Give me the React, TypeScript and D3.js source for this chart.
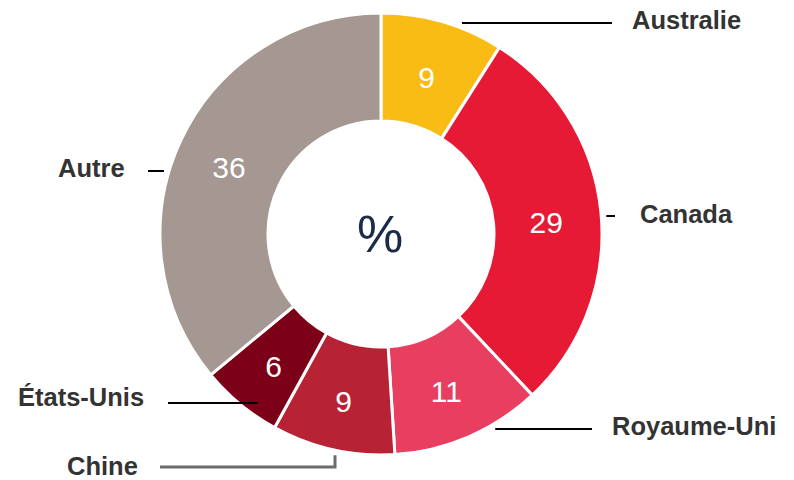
import React from "react";
import * as d3 from "d3";

const categories = ["Australie", "Canada", "Royaume-Uni", "Chine", "États-Unis", "Autre"];
const values = [9, 29, 11, 9, 6, 36];
const colors = ["#F8BC14", "#E61A35", "#E83E60", "#B72234", "#7D0019", "#A59791"];

// label layout: text anchor point, leader line y, outer end x, leader style
const labelLayout = [
  { tx: 632, ty: 29, ly: 23, lx: 612, side: 1, r: 226, color: "#000" },
  { tx: 640, ty: 223, ly: 216, lx: 615, side: 1, r: 226, color: "#000" },
  { tx: 612, ty: 435, ly: 429, lx: 592, side: 1, r: 226, color: "#000" },
  { tx: 67, ty: 475, ly: 467, lx: 160, side: -1, r: 226, color: "#6b6b6b", elbowX: 335 },
  { tx: 18, ty: 406, ly: 403, lx: 168, side: -1, r: 209, color: "#000" },
  { tx: 58, ty: 177, ly: 171, lx: 148, side: -1, r: 226, color: "#000" },
];

const W = 794;
const H = 480;
const cx = 381;
const cy = 234;
const outerR = 221;
const innerR = 113;

export default function App() {
  const pie = d3.pie<number>().sort(null).value((d) => d)(values);
  const arc = d3.arc<d3.PieArcDatum<number>>().innerRadius(innerR).outerRadius(outerR);
  const font = "'Liberation Sans', Arial, Helvetica, sans-serif";

  return (
    <svg
      width={W}
      height={H}
      style={{ position: "absolute", left: 0, top: 0, background: "#fff" }}
    >
      <g transform={`translate(${cx},${cy})`}>
        {pie.map((p, i) => (
          <path key={i} d={arc(p) || ""} fill={colors[i]} stroke="#fff" strokeWidth={3} />
        ))}
        {pie.map((p, i) => {
          const [x, y] = arc.centroid(p);
          return (
            <text
              key={"v" + i}
              x={x - 1}
              y={y + 4}
              dy="0.36em"
              textAnchor="middle"
              fill="#fff"
              fontFamily={font}
              fontSize={30}
            >
              {values[i]}
            </text>
          );
        })}
        <text
          x={-1}
          y={-1}
          dy="0.36em"
          textAnchor="middle"
          fill="#1c2b48"
          fontFamily={font}
          fontWeight={300}
          fontSize={52}
        >
          %
        </text>
      </g>
      {labelLayout.map((l, i) => {
        let d: string;
        if (l.elbowX !== undefined) {
          const dx = l.elbowX - cx;
          const yTop = cy + Math.sqrt(l.r * l.r - dx * dx);
          d = `M${l.elbowX},${yTop}V${l.ly}H${l.lx}`;
        } else {
          const dy = l.ly - cy;
          const xin = cx + l.side * Math.sqrt(l.r * l.r - dy * dy);
          d = `M${xin},${l.ly}H${l.lx}`;
        }
        return (
          <g key={"l" + i}>
            <path d={d} fill="none" stroke={l.color} strokeWidth={l.elbowX !== undefined ? 3 : 2} />
            <text
              x={l.tx}
              y={l.ty}
              fill="#333"
              fontFamily={font}
              fontWeight="bold"
              fontSize={25.5}
            >
              {categories[i]}
            </text>
          </g>
        );
      })}
    </svg>
  );
}
